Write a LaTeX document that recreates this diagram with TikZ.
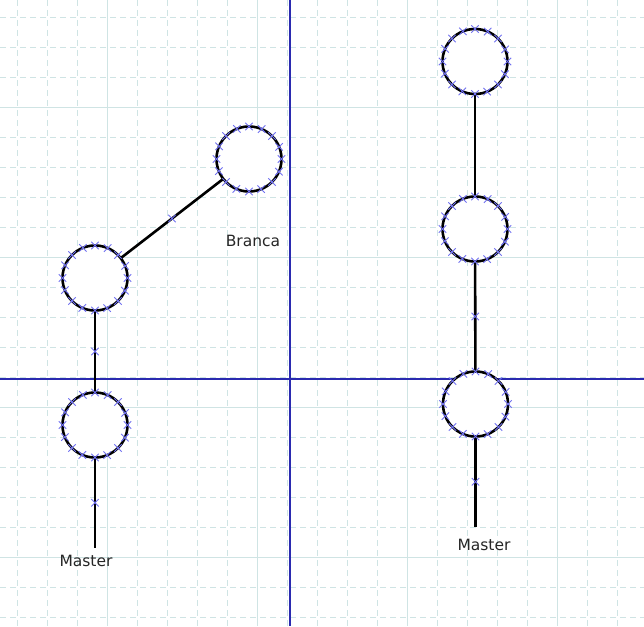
\documentclass[tikz,border=0pt]{standalone}
\usepackage{fontspec}
\setmainfont{DejaVu Sans}
\usetikzlibrary{shapes.misc}
\definecolor{gridc}{HTML}{CFE4E4}
\definecolor{axisc}{HTML}{2A2AB0}
\definecolor{markc}{HTML}{7070F0}
\tikzset{
  minorgrid/.style={draw=gridc, line width=1.2pt, dash pattern=on 6pt off 4pt},
  majorgrid/.style={draw=gridc, line width=1.2pt},
  axisline/.style={draw=axisc, line width=1.3pt},
  commit/.style={circle, draw=black, line width=2.6pt, minimum size=65pt, inner sep=0pt, outer sep=0pt, fill=white},
  edge/.style={draw=black, line width=2.6pt},
  xmark/.style={cross out, draw=markc, line width=0.9pt, minimum size=6.5pt, inner sep=0pt},
  lbl/.style={font=\fontsize{15.5}{17}\selectfont, text=black!85, inner sep=0pt}
}
\begin{document}
\begin{tikzpicture}[x=1pt,y=-1pt]
\useasboundingbox (0,0) rectangle (644,626);
\fill[white] (0,0) rectangle (644,626);
% grid
\foreach \k in {0,...,20}{
  \pgfmathsetmacro{\p}{17.7+30*\k}
  \pgfmathtruncatemacro{\m}{mod(\k-3,5)}
  \ifnum\m=0
    \path[majorgrid] (\p,0) -- (\p,626);
    \path[majorgrid] (0,\p) -- (644,\p);
  \else
    \path[minorgrid] (\p,0) -- (\p,626);
    \path[minorgrid] (0,\p) -- (644,\p);
  \fi
}
% axes
\path[axisline] (290,0) -- (290,626);
\path[axisline] (0,379) -- (644,379);
% left graph
\node[commit] (b) at (249,159) {};
\node[commit] (m2) at (95,278) {};
\node[commit] (m1) at (95,425) {};
\coordinate (lend) at (95,548);
% right graph
\node[commit] (r3) at (475,61.5) {};
\node[commit] (r2) at (475,229) {};
\node[commit] (r1) at (475.5,404) {};
\coordinate (rend) at (475.5,527);
% connectors
\path[edge] (m1) -- (lend) node[pos=0.5, xmark] {};
\path[edge] (m1) -- (m2) node[pos=0.5, xmark] {};
\path[edge] (m2) -- (b) node[pos=0.5, xmark] {};
\path[edge] (r1) -- (rend) node[pos=0.5, xmark] {};
\path[edge] (r1) -- (r2) node[pos=0.5, xmark] {};
\path[edge] (r2) -- (r3);
% handles on circles
\foreach \c in {b,m2,m1,r3,r2,r1}{
  \foreach \a in {0,22.5,...,337.5}{
    \node[xmark] at (\c.\a) {};
  }
}
% labels
\node[lbl] (lb) at (253,241) {Branca};
\node[lbl] (lm1) at (86,561) {Master};
\node[lbl] (lm2) at (484,545) {Master};
\end{tikzpicture}
\end{document}
